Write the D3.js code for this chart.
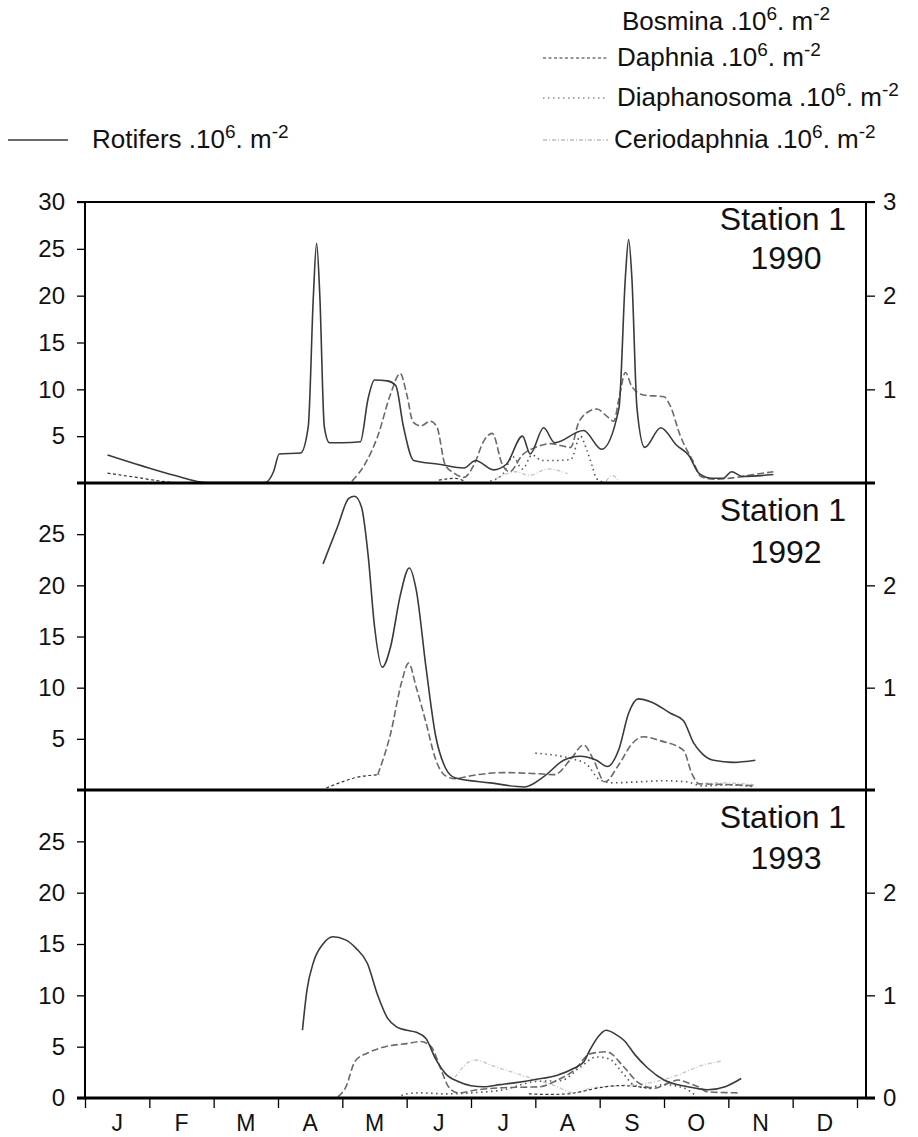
<!DOCTYPE html>
<meta charset="utf-8">
<style>
body { margin: 0; background: #fff; }
svg { display: block; font-family: "Liberation Sans", Arial, Helvetica, sans-serif; }
.axis .domain { display: none; }
</style>
<body>
<svg width="918" height="1137"></svg>
<script src="https://d3js.org/d3.v7.min.js"></script>
<script>
// time in months: 0 = 1 Jan ... 12 = 31 Dec
var months = ["J", "F", "M", "A", "M", "J", "J", "A", "S", "O", "N", "D"];
var years = ["1990", "1992", "1993"];
var leftTicks = [[5, 10, 15, 20, 25, 30], [5, 10, 15, 20, 25], [0, 5, 10, 15, 20, 25]];
var rightTicks = [[1, 2, 3], [1, 2], [0, 1, 2]];

// rotifers, left axis (10^6 m^-2): [month, value]
var rot1990 = [[0.35,3.0],[0.9,1.8],[1.4,0.8],[1.9,0.05],[2.8,0.05],[2.93,1.2],[3.02,3.1],[3.35,3.2],[3.47,6],[3.55,20],[3.6,25.6],[3.65,20],[3.72,6],[3.8,4.3],[4.0,4.3],[4.28,4.4],[4.4,9],[4.5,11.0],[4.7,10.9],[4.83,10.4],[4.95,6],[5.11,2.4],[5.5,2.0],[5.89,1.6],[6.07,2.4],[6.35,1.4],[6.55,2.0],[6.8,5.0],[6.92,3.1],[7.13,5.9],[7.3,4.3],[7.75,5.6],[8.03,3.6],[8.3,8],[8.4,22],[8.45,26],[8.5,22],[8.58,8],[8.7,3.8],[8.95,5.9],[9.2,4.0],[9.38,3.0],[9.55,1.0],[9.75,0.5],[9.92,0.5],[10.05,1.2],[10.22,0.7],[10.7,0.9]];
var rot1992 = [[3.7,22.1],[3.93,25.8],[4.1,28.5],[4.19,28.7],[4.3,27.6],[4.4,23],[4.5,16],[4.62,12.0],[4.75,14],[4.9,19],[5.04,21.7],[5.15,19.5],[5.3,12],[5.45,5.3],[5.6,2.2],[5.75,1.2],[6.3,0.7],[6.83,0.3],[7.13,1.3],[7.44,2.9],[7.7,3.3],[7.95,2.9],[8.12,2.3],[8.3,4.0],[8.45,7.5],[8.6,8.9],[8.8,8.6],[9.1,7.5],[9.3,6.8],[9.46,4.6],[9.6,3.5],[9.77,2.9],[10.08,2.7],[10.42,2.9]];
var rot1993 = [[3.38,6.6],[3.45,10.5],[3.55,13.2],[3.7,15.0],[3.85,15.7],[4.05,15.4],[4.21,14.6],[4.39,13.1],[4.55,10],[4.7,7.8],[4.85,6.9],[5.0,6.6],[5.15,6.4],[5.3,5.8],[5.45,3.8],[5.6,2.4],[5.8,1.6],[6.0,1.2],[6.2,1.1],[6.45,1.3],[6.7,1.5],[7.0,1.8],[7.33,2.2],[7.6,2.9],[7.75,3.5],[7.85,4.7],[7.98,6.0],[8.1,6.6],[8.25,6.2],[8.38,5.6],[8.55,4.2],[8.75,2.9],[9.0,1.75],[9.37,1.1],[9.68,0.8],[9.95,1.1],[10.2,1.9]];

// cladocerans, right axis (10^6 m^-2); null breaks the line
var bos1990 = [[4.15,0.02],[4.35,0.2],[4.55,0.5],[4.75,0.95],[4.9,1.17],[5.0,0.95],[5.1,0.65],[5.22,0.61],[5.37,0.66],[5.47,0.6],[5.6,0.19],[5.73,0.11],[5.89,0.06],[6.05,0.2],[6.2,0.45],[6.33,0.53],[6.49,0.19],[6.6,0.12],[6.8,0.3],[7.0,0.38],[7.24,0.42],[7.55,0.38],[7.67,0.64],[7.8,0.75],[7.96,0.79],[8.1,0.72],[8.22,0.66],[8.3,0.9],[8.4,1.18],[8.5,1.03],[8.68,0.94],[9.0,0.92],[9.1,0.82],[9.25,0.51],[9.46,0.22],[9.57,0.07],[9.78,0.04],[10.08,0.055],[10.39,0.09],[10.7,0.12]];
var daph1990 = [[0.35,0.105],[0.8,0.06],[1.3,0.01],[1.6,0.0],null,[5.5,0.03],[5.75,0.05],[5.9,0.02]];
var diap1990 = [[6.3,0.02],[6.5,0.1],[6.65,0.28],[6.8,0.15],[6.95,0.3],[7.1,0.24],[7.3,0.24],[7.55,0.25],[7.7,0.5],[7.8,0.35],[7.88,0.19],[7.95,0.05],[8.05,0.01]];
var cer1990 = [[6.4,0.05],[6.7,0.12],[6.9,0.08],[7.2,0.15],[7.5,0.1],null,[8.1,0.02],[8.2,0.08],[8.3,0.02]];

var bos1992 = [[4.55,0.15],[4.75,0.55],[4.92,1.05],[5.03,1.24],[5.15,1.0],[5.3,0.66],[5.45,0.3],[5.6,0.14],[5.75,0.11],[6.0,0.14],[6.5,0.17],[7.0,0.16],[7.3,0.15],[7.55,0.3],[7.75,0.44],[7.9,0.3],[8.08,0.08],[8.3,0.25],[8.5,0.45],[8.68,0.52],[8.95,0.48],[9.3,0.39],[9.44,0.15],[9.55,0.06],[9.9,0.055],[10.42,0.04]];
var daph1992 = [[3.75,0.02],[4.0,0.08],[4.2,0.12],[4.58,0.15]];
var diap1992 = [[7.0,0.36],[7.3,0.34],[7.6,0.3],[7.8,0.25],[8.0,0.1],[8.2,0.07],[8.6,0.08],[9.0,0.09],[9.35,0.08],[9.6,0.04],[10.0,0.05],[10.42,0.03]];
var cer1992 = [[9.5,0.06],[9.9,0.07],[10.42,0.05]];

var bos1993 = [[3.93,0.01],[4.05,0.1],[4.2,0.36],[4.4,0.44],[4.67,0.5],[5.0,0.53],[5.22,0.55],[5.38,0.5],[5.52,0.3],[5.65,0.11],[5.8,0.05],[6.1,0.08],[6.5,0.1],[7.07,0.11],[7.33,0.17],[7.6,0.27],[7.85,0.43],[8.11,0.45],[8.38,0.3],[8.6,0.15],[8.85,0.095],[9.05,0.14],[9.22,0.175],[9.4,0.14],[9.53,0.11],[9.68,0.06],[10.15,0.05]];
var daph1993 = [[6.9,0.04],[7.2,0.035],[7.5,0.04],[7.7,0.06],[8.0,0.1],[8.3,0.12],[8.6,0.11],[8.8,0.09]];
var diap1993 = [[4.85,0.0],[5.0,0.04],[5.2,0.05],[5.6,0.04],[6.0,0.05],[6.5,0.08],[7.0,0.16],[7.4,0.17],[7.7,0.3],[7.95,0.4],[8.15,0.38],[8.35,0.25],[8.55,0.12],[8.75,0.1],[9.0,0.13],[9.3,0.1],[9.5,0.02]];
var cer1993 = [[5.75,0.2],[6.05,0.37],[6.4,0.3],[6.9,0.2],[7.3,0.12],[7.6,0.05],[7.9,0.1],[8.3,0.12],[8.8,0.15],[9.2,0.22],[9.6,0.32],[9.9,0.36]];

var panels = [
  {rot: rot1990, bos: bos1990, daph: daph1990, diap: diap1990, cer: cer1990},
  {rot: rot1992, bos: bos1992, daph: daph1992, diap: diap1992, cer: cer1992},
  {rot: rot1993, bos: bos1993, daph: daph1993, diap: diap1993, cer: cer1993}
];

var styles = {
  rot:  {stroke: "#3a3a3a", width: 1.6, dash: null},
  bos:  {stroke: "#6a6a6a", width: 1.6, dash: "7,3"},
  daph: {stroke: "#333", width: 1.2, dash: "3,2.5"},
  diap: {stroke: "#555", width: 1.6, dash: "1.5,3.5"},
  cer:  {stroke: "#c4c4c4", width: 1.3, dash: "4,2,1,2"}
};

var svg = d3.select("svg");
var frameLeft = 85, frameRight = 866;
var panelTop = [202, 483, 790], panelBottom = [483, 790, 1098];
var x = d3.scaleLinear().domain([0, 12]).range([85, 857]);

function styleAxis(g) {
  g.attr("font-family", null).attr("font-size", null);
  g.selectAll(".tick line").attr("stroke", "#000").attr("stroke-width", 1.3);
  g.selectAll(".tick text").attr("font-size", 24).attr("fill", "#111");
}

panels.forEach(function(p, i) {
  var yL = d3.scaleLinear().domain([0, 30]).range([panelBottom[i], panelTop[i]]);
  var yR = d3.scaleLinear().domain([0, 3]).range([panelBottom[i], panelTop[i]]);
  var g = svg.append("g");

  ["cer", "diap", "daph", "bos", "rot"].forEach(function(key) {
    var y = key == "rot" ? yL : yR;
    var line = d3.line()
      .defined(function(d) { return d != null; })
      .x(function(d) { return x(d[0]); })
      .y(function(d) { return y(d[1]); })
      .curve(d3.curveMonotoneX);
    g.append("path")
      .datum(p[key])
      .attr("fill", "none")
      .attr("stroke", styles[key].stroke)
      .attr("stroke-width", styles[key].width)
      .attr("stroke-dasharray", styles[key].dash)
      .attr("d", line);
  });

  g.append("g")
    .attr("class", "axis")
    .attr("transform", "translate(" + frameLeft + ",0)")
    .call(d3.axisLeft(yL).tickValues(leftTicks[i]).tickSize(8).tickPadding(12).tickFormat(d3.format("d")))
    .call(styleAxis);

  g.append("g")
    .attr("class", "axis")
    .attr("transform", "translate(" + frameRight + ",0)")
    .call(d3.axisRight(yR).tickValues(rightTicks[i]).tickSize(9).tickPadding(8).tickFormat(d3.format("d")))
    .call(styleAxis);

  g.append("text")
    .attr("x", 783).attr("y", [230, 521, 828][i])
    .attr("text-anchor", "middle").attr("font-size", 32).attr("fill", "#111")
    .text("Station 1");
  g.append("text")
    .attr("x", 786).attr("y", [269, 563, 869][i])
    .attr("text-anchor", "middle").attr("font-size", 32).attr("fill", "#111")
    .text(years[i]);
});

// frame
svg.append("line").attr("x1", frameLeft).attr("x2", frameLeft)
  .attr("y1", 202).attr("y2", 1098).attr("stroke", "#000").attr("stroke-width", 2);
svg.append("line").attr("x1", frameRight).attr("x2", frameRight)
  .attr("y1", 202).attr("y2", 1098).attr("stroke", "#000").attr("stroke-width", 2);
[202, 483, 790, 1098].forEach(function(yy, i) {
  svg.append("line").attr("x1", frameLeft - 8).attr("x2", frameRight + 9)
    .attr("y1", yy).attr("y2", yy)
    .attr("stroke", "#000").attr("stroke-width", i == 0 ? 2.2 : 3);
});

// month axis
svg.append("g")
  .attr("class", "axis")
  .attr("transform", "translate(0,1098)")
  .call(d3.axisBottom(x).tickValues(d3.range(13)).tickSize(10).tickFormat(""))
  .call(styleAxis);

svg.selectAll(".month")
  .data(months)
  .enter().append("text")
    .attr("class", "month")
    .attr("x", function(d, i) { return x(i + 0.5); })
    .attr("y", 1131)
    .attr("text-anchor", "middle")
    .attr("font-size", 23)
    .attr("fill", "#111")
    .text(function(d) { return d; });

// legend
var legendRows = [
  {key: "bos", label: "Bosmina", x: 622, y: 22, sample: false},
  {key: "daph", label: "Daphnia", x: 617, y: 58, sample: true},
  {key: "diap", label: "Diaphanosoma", x: 617, y: 98, sample: true},
  {key: "cer", label: "Ceriodaphnia", x: 614, y: 140, sample: true},
  {key: "rot", label: "Rotifers", x: 92, y: 140, sample: true}
];

legendRows.forEach(function(r) {
  if (r.sample) {
    svg.append("line")
      .attr("x1", r.key == "rot" ? 8 : 543).attr("x2", r.key == "rot" ? 68 : 608)
      .attr("y1", r.y).attr("y2", r.y)
      .attr("stroke", r.key == "cer" ? "#999" : styles[r.key].stroke)
      .attr("stroke-width", r.key == "rot" ? 1.3 : 1.2)
      .attr("stroke-dasharray", styles[r.key].dash);
  }
  var t = svg.append("text")
    .attr("x", r.x).attr("y", r.y + 8)
    .attr("font-size", 26).attr("fill", "#111");
  t.append("tspan").text(r.label + " .10");
  t.append("tspan").attr("font-size", 19).attr("dy", -10).text("6");
  t.append("tspan").attr("dy", 10).text(". m");
  t.append("tspan").attr("font-size", 19).attr("dy", -10).text("-2");
});
</script>
</body>
